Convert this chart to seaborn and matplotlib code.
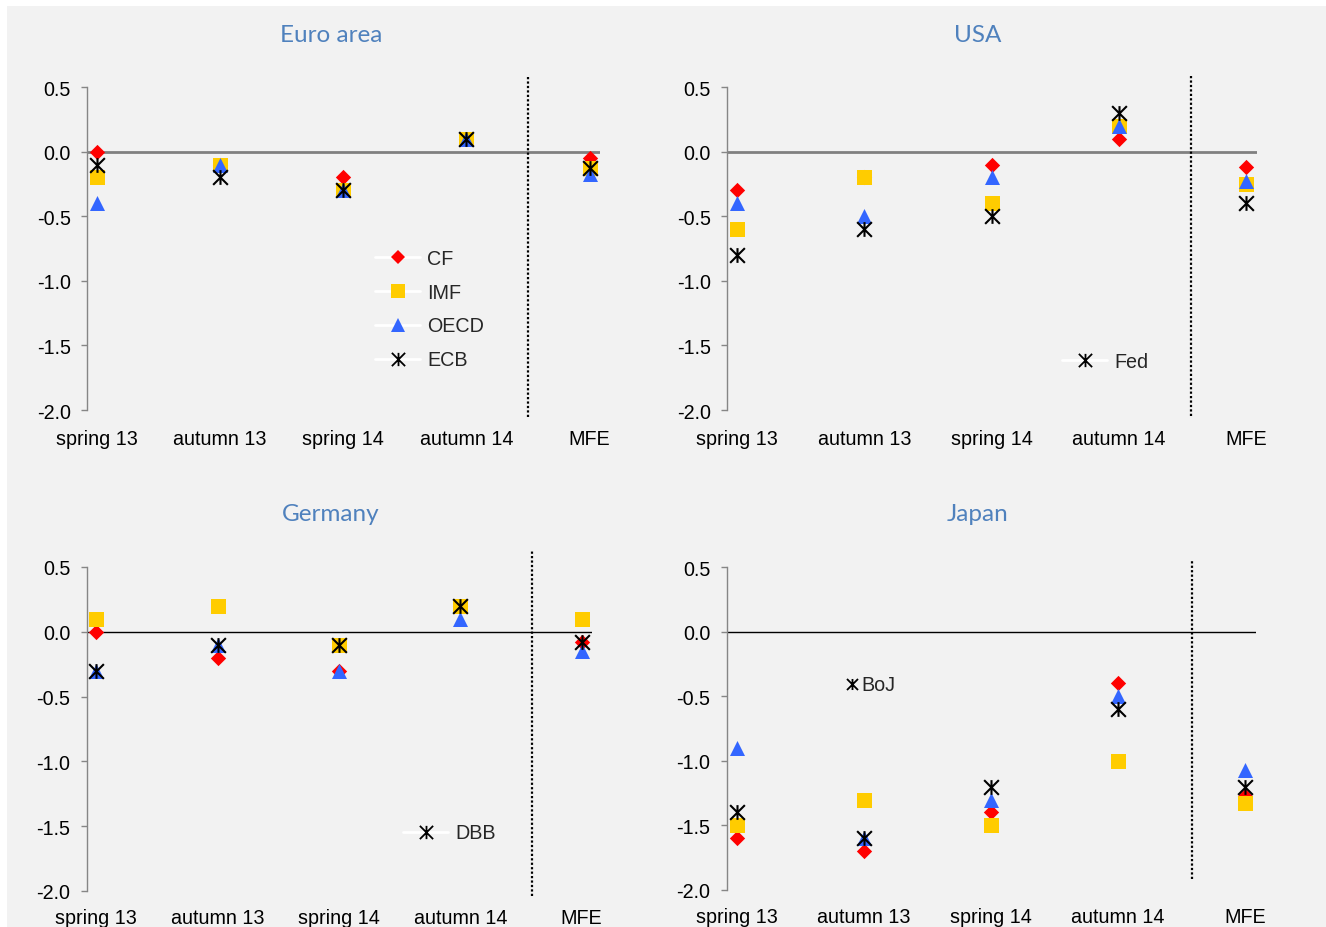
import numpy as np
import pandas as pd
import matplotlib
matplotlib.use("Agg")
import matplotlib.pyplot as plt
from matplotlib.path import Path
from matplotlib.lines import Line2D
from matplotlib.patches import Rectangle
import seaborn as sns

# ---------------- data ----------------
categories = ["spring 13", "autumn 13", "spring 14", "autumn 14", "MFE"]

euro_cf   = [0.0, -0.1, -0.2, 0.1, -0.05]
euro_imf  = [-0.2, -0.1, -0.3, 0.1, -0.125]
euro_oecd = [-0.4, -0.1, -0.3, 0.1, -0.175]
euro_ecb  = [-0.1, -0.2, -0.3, 0.1, -0.125]

usa_cf   = [-0.3, -0.2, -0.1, 0.1, -0.12]
usa_imf  = [-0.6, -0.2, -0.4, 0.2, -0.25]
usa_oecd = [-0.4, -0.5, -0.2, 0.2, -0.225]
usa_fed  = [-0.8, -0.6, -0.5, 0.3, -0.4]

ger_cf   = [0.0, -0.2, -0.3, 0.2, -0.075]
ger_imf  = [0.1, 0.2, -0.1, 0.2, 0.1]
ger_oecd = [-0.3, -0.1, -0.3, 0.1, -0.15]
ger_dbb  = [-0.3, -0.1, -0.1, 0.2, -0.075]

jap_cf   = [-1.6, -1.7, -1.4, -0.4, -1.275]
jap_imf  = [-1.5, -1.3, -1.5, -1.0, -1.325]
jap_oecd = [-0.9, -1.6, -1.3, -0.5, -1.075]
jap_boj  = [-1.4, -1.6, -1.2, -0.6, -1.2]

y_ticks = [0.5, 0.0, -0.5, -1.0, -1.5, -2.0]
y_tick_labels = ["0.5", "0.0", "-0.5", "-1.0", "-1.5", "-2.0"]

# ---------------- style ----------------
sns.set_style("white")
plt.rcParams["font.family"] = ["Liberation Sans", "DejaVu Sans"]

W, H = 1326, 928
fig = plt.figure(figsize=(W / 100, H / 100), dpi=100, facecolor="white")
fig.patches.append(Rectangle((7 / W, 0), 1 - 7 / W, 1 - 7 / H, transform=fig.transFigure,
                             facecolor="#f2f2f2", edgecolor="none", zorder=-10))

star = Path([(0, -1), (0, 1), (-1, -1), (1, 1), (-1, 1), (1, -1)],
            [Path.MOVETO, Path.LINETO, Path.MOVETO, Path.LINETO, Path.MOVETO, Path.LINETO])

COLORS = {"CF": "#ff0000", "IMF": "#ffcc00", "OECD": "#3366ff", "CB": "#000000"}
MARKERS = {"CF": "D", "IMF": "s", "OECD": "^", "CB": star}
SIZES = {"CF": 7.8, "IMF": 10.8, "OECD": 10.8, "CB": 10.6}

TICK_FS = 14.2
TITLE_COLOR = "#4f81bd"


def px_axes(left, right, top, bottom):
    return fig.add_axes([left / W, 1 - bottom / H, (right - left) / W, (bottom - top) / H])


panels = [
    dict(title="Euro area", cb="ECB", data=[euro_cf, euro_imf, euro_oecd, euro_ecb],
         box=(87, 600, 88, 411), sep=3.5, sep_y=(0.577, -2.054), zero=("#808080", 2.0),
         title_xy=(331, 35), legend="full", leg_xy=(375, 310), xpad=13.5),
    dict(title="USA", cb="Fed", data=[usa_cf, usa_imf, usa_oecd, usa_fed],
         box=(727, 1257, 88, 411), sep=3.565, sep_y=(0.593, -2.046), zero=("#808080", 2.0),
         title_xy=(978, 35), legend="cb", leg_xy=(1062, 362), xpad=13.5),
    dict(title="Germany", cb="DBB", data=[ger_cf, ger_imf, ger_oecd, ger_dbb],
         box=(86.5, 592, 568, 892), sep=3.59, sep_y=(0.63, -2.04), zero=("#000000", 1.0),
         title_xy=(331, 515), legend="cb", leg_xy=(403, 834), xpad=12),
    dict(title="Japan", cb="BoJ", data=[jap_cf, jap_imf, jap_oecd, jap_boj],
         box=(726.5, 1256, 568, 891), sep=3.58, sep_y=(0.56, -1.915), zero=("#000000", 1.0),
         title_xy=(978, 515), legend="cb_short", leg_xy=(845, 686), xpad=12),
]

keys = ["CF", "IMF", "OECD", "CB"]

for p in panels:
    ax = px_axes(*p["box"])
    ax.set_facecolor("none")
    for key, vals in zip(keys, p["data"]):
        df = pd.DataFrame({"period": categories, "value": vals})
        if key == "CB":
            sns.stripplot(data=df, x="period", y="value", order=categories, jitter=False,
                          marker=MARKERS[key], size=SIZES[key], color=COLORS[key],
                          edgecolor=COLORS[key], linewidth=1.5, ax=ax, zorder=5)
        else:
            sns.stripplot(data=df, x="period", y="value", order=categories, jitter=False,
                          marker=MARKERS[key], size=SIZES[key], color=COLORS[key],
                          linewidth=0, ax=ax, zorder=4)
    ax.set_xlim(-0.08, 4.085)
    ax.set_ylim(-2.0, 0.5)
    ax.set_xlabel("")
    ax.set_ylabel("")
    ax.set_yticks(y_ticks)
    ax.set_yticklabels(y_tick_labels)
    for s in ["top", "right", "bottom"]:
        ax.spines[s].set_visible(False)
    ax.spines["left"].set_color("#868686")
    ax.spines["left"].set_linewidth(1.0)
    ax.tick_params(axis="y", direction="out", length=4.5, width=1.0, color="#868686",
                   pad=7.0, labelsize=TICK_FS, labelcolor="black", left=True)
    ax.tick_params(axis="x", length=0, pad=p["xpad"], labelsize=TICK_FS, labelcolor="black")
    ax.axhline(0, color=p["zero"][0], lw=p["zero"][1], zorder=2)
    y0, y1 = p["sep_y"]
    ax.axvline(p["sep"], ymin=(y1 + 2.0) / 2.5, ymax=(y0 + 2.0) / 2.5, color="black",
               lw=1.6, ls=(0, (1, 1)), clip_on=False, zorder=3)
    ax.grid(False)

    fig.text(p["title_xy"][0] / W, 1 - p["title_xy"][1] / H, p["title"], ha="center",
             va="center", color=TITLE_COLOR, fontsize=17.5, family=["Lato", "DejaVu Sans"])

    labels_full = ["CF", "IMF", "OECD", p["cb"]]
    handles = []
    for key in keys:
        h = Line2D([], [], color="white", lw=2.0, marker=MARKERS[key],
                   markersize=SIZES[key] * 0.9, markerfacecolor=COLORS[key],
                   markeredgecolor=COLORS[key], markeredgewidth=(1.3 if key == "CB" else 0))
        handles.append(h)
    if p["legend"] == "full":
        hs, ls_ = handles, labels_full
        hl, htp = 2.3, 0.35
    elif p["legend"] == "cb":
        hs, ls_ = [handles[3]], [p["cb"]]
        hl, htp = 2.3, 0.35
    else:
        h = Line2D([], [], color="none", lw=0, marker=star, markersize=SIZES["CB"] * 0.75,
                   markeredgecolor="black", markeredgewidth=1.3)
        hs, ls_ = [h], [p["cb"]]
        hl, htp = 0.75, 0.1
    ax.legend(hs, ls_, loc="center left",
              bbox_to_anchor=(p["leg_xy"][0] / W, 1 - p["leg_xy"][1] / H),
              bbox_transform=fig.transFigure, frameon=False, fontsize=TICK_FS,
              handlelength=hl, handletextpad=htp, labelspacing=0.76,
              borderpad=0, borderaxespad=0)

fig.savefig("out.png", dpi=100, facecolor=fig.get_facecolor())
